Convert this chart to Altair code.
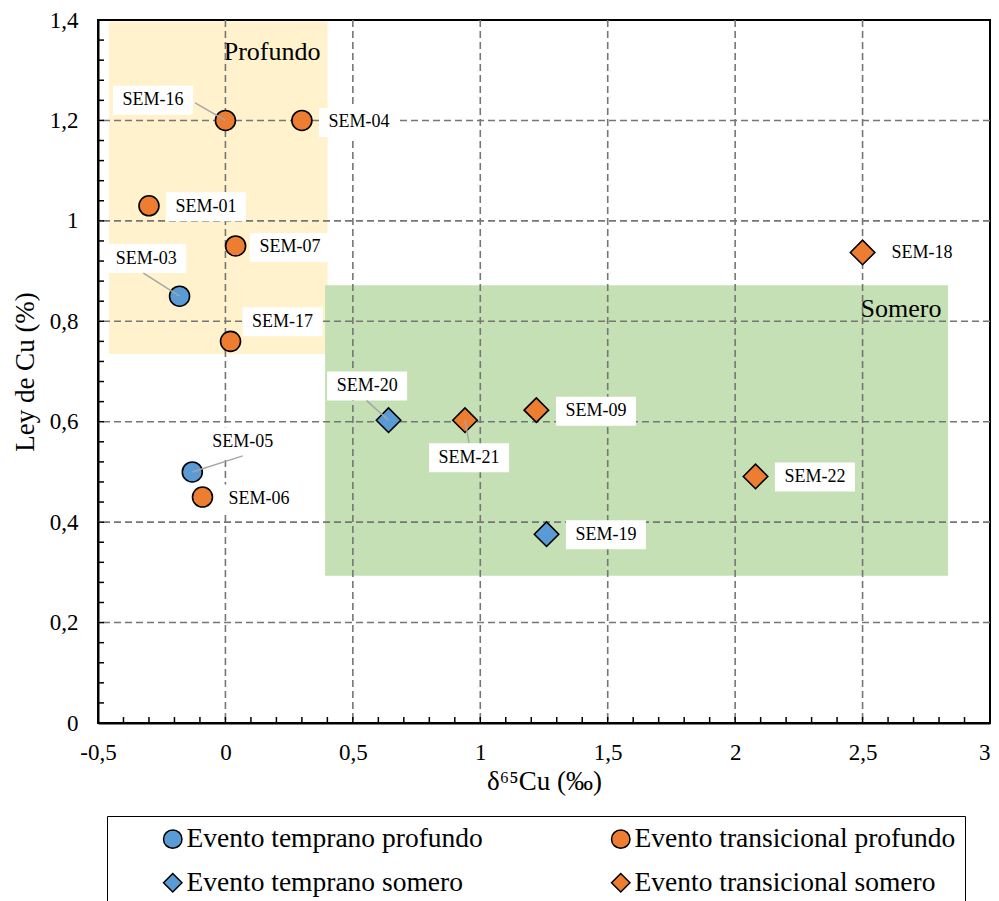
import altair as alt
import pandas as pd

FONT = "Liberation Serif"

# ---- data ----
names = ["SEM-16", "SEM-04", "SEM-01", "SEM-07", "SEM-03", "SEM-17", "SEM-05",
         "SEM-06", "SEM-20", "SEM-21", "SEM-09", "SEM-19", "SEM-22", "SEM-18"]
d65cu = [0.00, 0.30, -0.30, 0.04, -0.18, 0.02, -0.13,
         -0.09, 0.64, 0.94, 1.22, 1.26, 2.08, 2.50]
ley_cu = [1.20, 1.20, 1.03, 0.95, 0.85, 0.76, 0.50,
          0.45, 0.603, 0.603, 0.623, 0.376, 0.491, 0.937]
grupo = ["Evento transicional profundo", "Evento transicional profundo",
         "Evento transicional profundo", "Evento transicional profundo",
         "Evento temprano profundo", "Evento transicional profundo",
         "Evento temprano profundo", "Evento transicional profundo",
         "Evento temprano somero", "Evento transicional somero",
         "Evento transicional somero", "Evento temprano somero",
         "Evento transicional somero", "Evento transicional somero"]

# label anchor positions (data units)
lab_x = [-0.284, 0.524, -0.076, 0.253, -0.311, 0.224, 0.068,
         0.132, 0.556, 0.956, 1.454, 1.493, 2.313, 2.733]
lab_y = [1.240, 1.196, 1.028, 0.947, 0.925, 0.799, 0.560,
         0.446, 0.671, 0.528, 0.621, 0.375, 0.490, 0.935]

# leader lines (start at label, end at point)
leader_names = ["SEM-16", "SEM-03", "SEM-20", "SEM-21", "SEM-05"]
leader_x = [-0.119, -0.322, 0.554, 0.956, 0.068]
leader_y = [1.235, 0.896, 0.642, 0.558, 0.532]

# legend order (filled column by column)
grupos = ["Evento temprano profundo", "Evento temprano somero",
          "Evento transicional profundo", "Evento transicional somero"]
colores = ["#5B9BD5", "#5B9BD5", "#ED7D31", "#ED7D31"]
formas = ["circle", "diamond", "circle", "diamond"]

region_names = ["Profundo", "Somero"]
region_x1 = [-0.457, 0.391]
region_x2 = [0.401, 2.835]
region_y1 = [0.735, 0.293]
region_y2 = [1.397, 0.872]
region_colors = ["#FFF2CC", "#C5E0B4"]
region_lab_x = [0.183, 2.651]
region_lab_y = [1.337, 0.8245]

x_major = [-0.5, 0, 0.5, 1, 1.5, 2, 2.5, 3]
y_major = [0, 0.2, 0.4, 0.6, 0.8, 1, 1.2, 1.4]
x_grid = [0, 0.5, 1, 1.5, 2, 2.5]
y_grid = [0.2, 0.4, 0.6, 0.8, 1, 1.2]
x_minor = [round(-0.5 + 0.1 * i, 2) for i in range(36)]
y_minor = [round(0.04 * i, 2) for i in range(36)]

# ---- tables ----
pts = pd.DataFrame({"name": names, "x": d65cu, "y": ley_cu, "grupo": grupo,
                    "lx": lab_x, "ly": lab_y})
pts["forma"] = pts["grupo"].map(dict(zip(grupos, formas)))
circ = pts[pts["forma"] == "circle"]
diam = pts[pts["forma"] == "diamond"]

lead = pd.DataFrame({"name": leader_names, "x0": leader_x, "y0": leader_y})
lead = lead.merge(pts[["name", "x", "y"]], on="name")

reg = pd.DataFrame({"name": region_names, "x1": region_x1, "x2": region_x2,
                    "y1": region_y1, "y2": region_y2,
                    "lx": region_lab_x, "ly": region_lab_y})

W, H = 892, 703
xs = alt.Scale(domain=[-0.5, 3], nice=False, zero=False)
ys = alt.Scale(domain=[0, 1.4], nice=False, zero=False)
lab_expr = "replace(toString(datum.value), '.', ',')"

x_axis = alt.Axis(values=x_major, labelExpr=lab_expr, grid=False, ticks=False,
                  tickSize=0, domainColor="black", domainWidth=2,
                  labelFont=FONT, labelFontSize=23, labelColor="black",
                  labelPadding=18, labelFlush=False, labelOverlap=False,
                  labelAlign={"condition": {"test": "datum.value >= 3", "value": "right"},
                              "value": "center"},
                  title="δ⁶⁵Cu (‰)", titleFont=FONT, titleFontSize=27,
                  titleFontWeight="normal", titleColor="black", titlePadding=4)
y_axis = alt.Axis(values=y_major, labelExpr=lab_expr, grid=False, ticks=False,
                  tickSize=0, domainColor="black", domainWidth=2,
                  labelFont=FONT, labelFontSize=23, labelColor="black",
                  labelPadding=20, labelFlush=False, labelOverlap=False,
                  title="Ley de Cu (%)", titleFont=FONT, titleFontSize=27,
                  titleFontWeight="normal", titleColor="black", titlePadding=10)


def X(field):
    return alt.X(field, scale=xs, axis=x_axis)


def Y(field):
    return alt.Y(field, scale=ys, axis=y_axis)


regions = alt.Chart(reg).mark_rect(opacity=1).encode(
    x=X("x1:Q"), x2="x2:Q", y=Y("y1:Q"), y2="y2:Q",
    fill=alt.Fill("name:N", scale=alt.Scale(domain=region_names, range=region_colors),
                  legend=None),
)
region_text = alt.Chart(reg).mark_text(font=FONT, fontSize=26, color="black",
                                       align="center", baseline="middle").encode(
    x=X("lx:Q"), y=Y("ly:Q"), text="name:N")

vgrid = alt.Chart(pd.DataFrame({"v": x_grid})).mark_rule(
    color="#767676", strokeDash=[7, 4], strokeWidth=1.6).encode(x=X("v:Q"))
hgrid = alt.Chart(pd.DataFrame({"v": y_grid})).mark_rule(
    color="#767676", strokeDash=[7, 4], strokeWidth=1.6).encode(y=Y("v:Q"))

xticks = alt.Chart(pd.DataFrame({"v": x_minor})).mark_rule(
    color="black", strokeWidth=1.5).encode(
    x=X("v:Q"), y=alt.value(H), y2=alt.value(H - 6))
yticks = alt.Chart(pd.DataFrame({"v": y_minor})).mark_rule(
    color="black", strokeWidth=1.5).encode(
    y=Y("v:Q"), x=alt.value(0), x2=alt.value(6))

leg = alt.Legend(title=" ", titleOrient="left", titleFontSize=1, titlePadding=43,
                 orient="none", legendX=9, legendY=796, columns=2,
                 columnPadding=124, rowPadding=15, labelFont=FONT,
                 labelFontSize=27.5, labelColor="black", labelLimit=600,
                 labelOffset=0, symbolSize=340, symbolStrokeColor="black",
                 symbolStrokeWidth=1.5, strokeColor="black", padding=9,
                 fillColor="white")

color_enc = alt.Color("grupo:N", scale=alt.Scale(domain=grupos, range=colores), legend=leg)
shape_enc = alt.Shape("grupo:N", scale=alt.Scale(domain=grupos, range=formas), legend=leg)

circles = alt.Chart(circ).mark_point(filled=True, size=400, stroke="black",
                                     strokeWidth=1.6, opacity=1).encode(
    x=X("x:Q"), y=Y("y:Q"), color=color_enc, shape=shape_enc)
diamonds = alt.Chart(diam).mark_point(filled=True, size=600, stroke="black",
                                      strokeWidth=1.6, opacity=1).encode(
    x=X("x:Q"), y=Y("y:Q"), color=color_enc, shape=shape_enc)

boxes = alt.Chart(pts).mark_point(
    shape="M-1,-0.3625L1,-0.3625L1,0.3625L-1,0.3625Z", size=6400, filled=True,
    fill="white", opacity=1, strokeWidth=0).encode(x=X("lx:Q"), y=Y("ly:Q"))

leaders = alt.Chart(lead).mark_rule(color="#a6a6a6", strokeWidth=1.5).encode(
    x=X("x0:Q"), y=Y("y0:Q"), x2="x:Q", y2="y:Q")

labels = alt.Chart(pts).mark_text(font=FONT, fontSize=18, color="black",
                                  align="center", baseline="middle").encode(
    x=X("lx:Q"), y=Y("ly:Q"), text="name:N")

chart = alt.layer(
    regions, region_text, vgrid, hgrid, xticks, yticks,
    circles, diamonds, boxes, leaders, labels
).properties(
    width=W, height=H,
    autosize=alt.AutoSizeParams(type="none"),
    padding={"left": 90, "top": 12, "right": 1, "bottom": 185},
).configure_view(stroke="black", strokeWidth=2)

chart.save("out.html", embed_options={"renderer": "svg", "actions": False})
